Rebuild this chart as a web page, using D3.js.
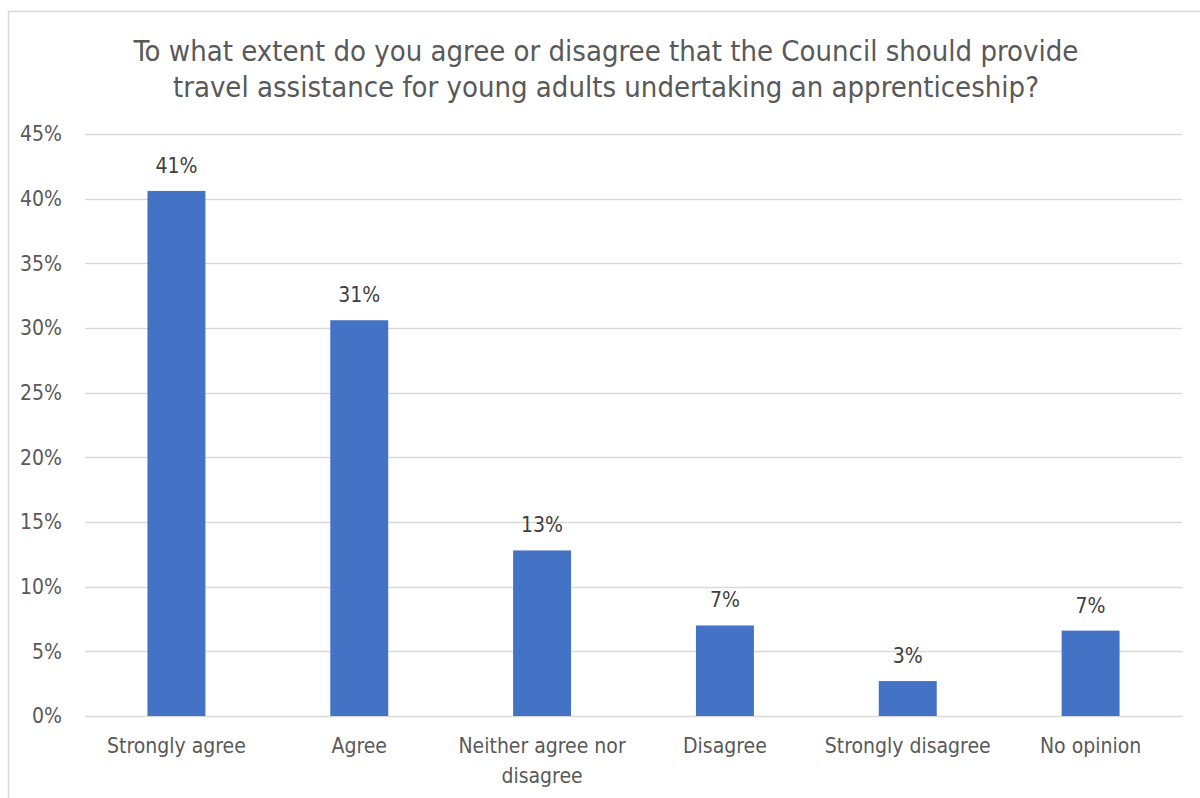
<!DOCTYPE html>
<html>
<head>
<meta charset="utf-8">
<script src="https://cdn.jsdelivr.net/npm/d3@7"></script>
<style>
  body { margin: 0; background: #fff; }
  text { font-family: "DejaVu Sans Condensed", "DejaVu Sans", sans-serif; fill: #595959; }
</style>
</head>
<body>
<div id="chart"></div>
<script>
// data
const categories = ["Strongly agree", "Agree", "Neither agree nor disagree", "Disagree", "Strongly disagree", "No opinion"];
const values = [0.406, 0.306, 0.128, 0.070, 0.027, 0.066];
const labels = ["41%", "31%", "13%", "7%", "3%", "7%"];
const yTicks = [0, 0.05, 0.10, 0.15, 0.20, 0.25, 0.30, 0.35, 0.40, 0.45];
const titleLines = [
    "To what extent do you agree or disagree that the Council should provide",
    "travel assistance for young adults undertaking an apprenticeship?"
];

const W = 1200, H = 798;
const plot = { left: 85, right: 1182, top: 134, bottom: 716 };

const svg = d3.select("#chart").append("svg")
    .attr("width", W)
    .attr("height", H);

// chart area border
svg.append("rect")
    .attr("x", 8.5).attr("y", 11.5)
    .attr("width", W).attr("height", H)
    .attr("fill", "none")
    .attr("stroke", "#d9d9d9")
    .attr("stroke-width", 1.5);

// title
svg.append("text")
    .attr("text-anchor", "middle")
    .style("font-size", "29px")
    .selectAll("tspan")
    .data(titleLines)
    .enter().append("tspan")
    .attr("x", 606)
    .attr("y", (d, i) => 61 + i * 36)
    .text(d => d);

// scales
const x = d3.scaleBand()
    .domain(categories)
    .range([plot.left, plot.right])
    .paddingInner(0.683)
    .paddingOuter(0.683 / 2);

const y = d3.scaleLinear()
    .domain([0, 0.45])
    .range([plot.bottom, plot.top]);

// gridlines
svg.append("g")
    .selectAll("line")
    .data(yTicks)
    .enter().append("line")
    .attr("x1", plot.left).attr("x2", plot.right)
    .attr("y1", d => Math.round(y(d)) + 0.5)
    .attr("y2", d => Math.round(y(d)) + 0.5)
    .attr("stroke", "#d9d9d9")
    .attr("stroke-width", 1.5);

// y axis labels
const yAxis = svg.append("g")
    .attr("transform", `translate(${plot.left},0)`)
    .call(d3.axisLeft(y).tickValues(yTicks).tickFormat(d3.format(".0%")).tickSize(0).tickPadding(23));
yAxis.select(".domain").remove();
yAxis.attr("font-family", null).attr("font-size", null);
yAxis.selectAll("text")
    .style("font-size", "21px")
    .attr("fill", null);

// bars
svg.selectAll(".bar")
    .data(values)
    .enter().append("rect")
    .attr("class", "bar")
    .attr("x", (d, i) => x(categories[i]))
    .attr("width", x.bandwidth())
    .attr("y", d => y(d))
    .attr("height", d => y(0) - y(d))
    .attr("fill", "#4472c4");

// value labels
svg.selectAll(".val")
    .data(values)
    .enter().append("text")
    .attr("class", "val")
    .attr("x", (d, i) => x(categories[i]) + x.bandwidth() / 2)
    .attr("y", d => y(d) - 18)
    .attr("text-anchor", "middle")
    .style("font-size", "21px")
    .style("fill", "#404040")
    .text((d, i) => labels[i]);

// category labels, wrapped to fit the band
function wrapLines(str) {
    if (str === "Neither agree nor disagree") return ["Neither agree nor", "disagree"];
    return [str];
}
const xl = svg.selectAll(".cat")
    .data(categories)
    .enter().append("text")
    .attr("class", "cat")
    .attr("text-anchor", "middle")
    .style("font-size", "21px");
xl.selectAll("tspan")
    .data(d => wrapLines(d).map(t => ({ t, c: d })))
    .enter().append("tspan")
    .attr("x", d => x(d.c) + x.bandwidth() / 2)
    .attr("y", (d, i) => 753 + i * 30)
    .text(d => d.t);
</script>
</body>
</html>
